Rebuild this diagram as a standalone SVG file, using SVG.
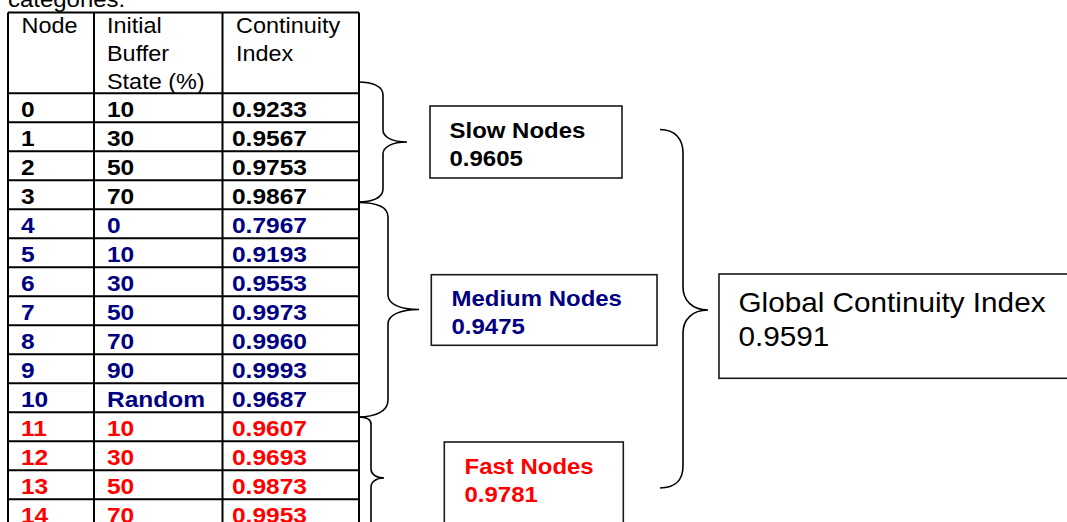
<svg xmlns="http://www.w3.org/2000/svg" width="1067" height="522" viewBox="0 0 1067 522">
<style>
text { font-family: "Liberation Sans", Arial, sans-serif; transform-box: fill-box; transform-origin: 0 0; transform: scaleX(1.09); }
.h { font-size: 21.5px; fill: #000; }
.b { font-size: 22.5px; font-weight: bold; }
.k { fill: #000; }
.n { fill: #000080; }
.r { fill: #ff0000; }
.grid { stroke: #000; stroke-width: 2; fill: none; }
.box { stroke: #1a1a1a; stroke-width: 1.6; fill: #fff; }
.brace { stroke: #000; stroke-width: 1.6; fill: none; }
.lbl { font-size: 22px; font-weight: bold; }
.glb { font-size: 27px; fill: #000; transform: scaleX(1.1); }
</style>
<rect width="1067" height="522" fill="#fff"/>
<text x="8" y="6.5" class="h" style="font-size:22px">categories.</text>
<g id="table">
  <path class="grid" d="M8,12.5 H359 M8,12.5 V522 M94,12.5 V522 M222.5,12.5 V522 M359,12.5 V522
  M8,93.3 H359 M8,122.3 H359 M8,151.3 H359 M8,180.3 H359 M8,209.3 H359 M8,238.3 H359 M8,267.3 H359 M8,296.3 H359 M8,325.3 H359 M8,354.3 H359 M8,383.3 H359 M8,412.3 H359 M8,441.3 H359 M8,470.3 H359 M8,499.3 H359"/>
  <text class="h" x="21.5" y="33.5">Node</text>
  <text class="h" x="107" y="33.5">Initial</text>
  <text class="h" x="107" y="61.5">Buffer</text>
  <text class="h" x="107" y="89.5">State (%)</text>
  <text class="h" x="236" y="33.5">Continuity</text>
  <text class="h" x="236" y="61.5">Index</text>
  <g class="b k">
    <text x="21" y="117">0</text><text x="107" y="117">10</text><text x="232" y="117">0.9233</text>
    <text x="21" y="146">1</text><text x="107" y="146">30</text><text x="232" y="146">0.9567</text>
    <text x="21" y="175">2</text><text x="107" y="175">50</text><text x="232" y="175">0.9753</text>
    <text x="21" y="204">3</text><text x="107" y="204">70</text><text x="232" y="204">0.9867</text>
  </g>
  <g class="b n">
    <text x="21" y="233">4</text><text x="107" y="233">0</text><text x="232" y="233">0.7967</text>
    <text x="21" y="262">5</text><text x="107" y="262">10</text><text x="232" y="262">0.9193</text>
    <text x="21" y="291">6</text><text x="107" y="291">30</text><text x="232" y="291">0.9553</text>
    <text x="21" y="320">7</text><text x="107" y="320">50</text><text x="232" y="320">0.9973</text>
    <text x="21" y="349">8</text><text x="107" y="349">70</text><text x="232" y="349">0.9960</text>
    <text x="21" y="378">9</text><text x="107" y="378">90</text><text x="232" y="378">0.9993</text>
    <text x="21" y="407">10</text><text x="107" y="407">Random</text><text x="232" y="407">0.9687</text>
  </g>
  <g class="b r">
    <text x="21" y="436">11</text><text x="107" y="436">10</text><text x="232" y="436">0.9607</text>
    <text x="21" y="465">12</text><text x="107" y="465">30</text><text x="232" y="465">0.9693</text>
    <text x="21" y="494">13</text><text x="107" y="494">50</text><text x="232" y="494">0.9873</text>
    <text x="21" y="523">14</text><text x="107" y="523">70</text><text x="232" y="523">0.9953</text>
  </g>
</g>
<g id="connectors">
  <path class="brace" d="M358,82 C372,82 383,86 383,95 L383,130 C383,137 392,142 407,142 C392,142 383,147 383,154 L383,189 C383,198 372,202 358,202"/>
  <path class="brace" d="M358,202.5 C376,202.5 388,207 388,217 L388,295 C388,304 400,309.5 419,309.5 C400,309.5 388,315 388,324 L388,400 C388,411 376,417 358,417"/>
  <path class="brace" d="M358,417 C366,417 371,419 371,424 L371,469 C371,474 376,478 384,478 C376,478 371,482 371,487 L371,532 C371,537 366,539 358,539"/>
  <path class="brace" d="M660,129.5 C675,129.5 683,139 683,153 L683,287 C683,300 692,310 708,310 C692,310 683,320 683,333 L683,466 C683,480 675,488 660,488"/>
</g>
<g id="slow">
  <rect class="box" x="430" y="106" width="192" height="72"/>
  <text class="lbl k" x="449.5" y="138.5">Slow Nodes</text>
  <text class="lbl k" x="449.5" y="166">0.9605</text>
</g>
<g id="medium">
  <rect class="box" x="431.3" y="274.7" width="225.7" height="70.6"/>
  <text class="lbl n" x="451.5" y="306">Medium Nodes</text>
  <text class="lbl n" x="451.5" y="334">0.9475</text>
</g>
<g id="fast">
  <rect class="box" x="444.3" y="442" width="179" height="90"/>
  <text class="lbl r" x="464.5" y="474">Fast Nodes</text>
  <text class="lbl r" x="464.5" y="502.3">0.9781</text>
</g>
<g id="global">
  <rect class="box" x="719" y="274" width="360" height="104.3"/>
  <text class="glb" x="738.5" y="311.7">Global Continuity Index</text>
  <text class="glb" x="738.5" y="346">0.9591</text>
</g>
</svg>
